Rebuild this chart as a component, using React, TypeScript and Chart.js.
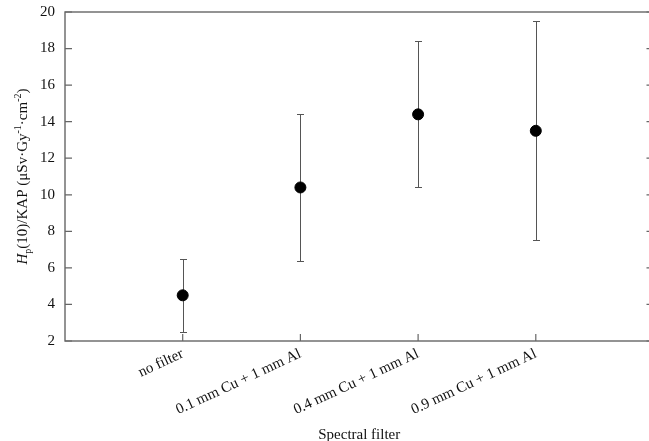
import React, { useEffect, useRef } from 'react';
import { Chart, registerables } from 'chart.js';

Chart.register(...registerables);

const categories = ['no filter', '0.1 mm Cu + 1 mm Al', '0.4 mm Cu + 1 mm Al', '0.9 mm Cu + 1 mm Al'];
const categoryPositions = [1, 2, 3, 4];
const meanValues = [4.5, 10.4, 14.4, 13.5];
const lowerValues = [2.5, 6.4, 10.4, 7.5];
const upperValues = [6.5, 14.4, 18.4, 19.5];
const yTickValues = [2, 4, 6, 8, 10, 12, 14, 16, 18, 20];
const xTitle = 'Spectral filter';

const SERIF = '"Liberation Serif", "Times New Roman", serif';

const decorPlugin = {
  id: 'decor',
  beforeDatasetsDraw(chart: any) {
    const ctx = chart.ctx;
    const xs = chart.scales.x;
    const ys = chart.scales.y;
    ctx.save();
    ctx.strokeStyle = '#555';
    ctx.lineWidth = 1;
    categoryPositions.forEach((pos, i) => {
      const x = Math.round(xs.getPixelForValue(pos)) + 0.5;
      const yl = Math.round(ys.getPixelForValue(lowerValues[i])) + 0.5;
      const yh = Math.round(ys.getPixelForValue(upperValues[i])) + 0.5;
      ctx.beginPath();
      ctx.moveTo(x, yl);
      ctx.lineTo(x, yh);
      ctx.moveTo(x - 3.5, yl);
      ctx.lineTo(x + 3.5, yl);
      ctx.moveTo(x - 3.5, yh);
      ctx.lineTo(x + 3.5, yh);
      ctx.stroke();
    });
    ctx.restore();
  },
  afterDraw(chart: any) {
    const ctx = chart.ctx;
    const a = chart.chartArea;
    const xs = chart.scales.x;
    const ys = chart.scales.y;
    ctx.save();
    ctx.strokeStyle = '#666';
    ctx.lineWidth = 1.4;
    ctx.strokeRect(a.left, a.top, a.right - a.left, a.bottom - a.top);
    ctx.lineWidth = 1.2;
    ctx.beginPath();
    yTickValues.forEach((v) => {
      const y = ys.getPixelForValue(v);
      ctx.moveTo(a.left, y);
      ctx.lineTo(a.left + 7, y);
      ctx.moveTo(a.right, y);
      ctx.lineTo(a.right - 7, y);
    });
    categoryPositions.forEach((p) => {
      const x = xs.getPixelForValue(p);
      ctx.moveTo(x, a.bottom);
      ctx.lineTo(x, a.bottom - 7);
    });
    ctx.stroke();

    // x title
    ctx.fillStyle = '#111';
    ctx.font = `15px ${SERIF}`;
    ctx.textAlign = 'center';
    ctx.textBaseline = 'alphabetic';
    ctx.fillText(xTitle, (a.left + a.right) / 2, 439);

    // y title with italic H, subscript p and superscripts
    const parts: { t: string; font: string; dy: number }[] = [
      { t: 'H', font: `italic 15px ${SERIF}`, dy: 0 },
      { t: 'p', font: `10px ${SERIF}`, dy: 4 },
      { t: '(10)/KAP (μSv·Gy', font: `15px ${SERIF}`, dy: 0 },
      { t: '-1', font: `10px ${SERIF}`, dy: -6 },
      { t: '·cm', font: `15px ${SERIF}`, dy: 0 },
      { t: '-2', font: `10px ${SERIF}`, dy: -6 },
      { t: ')', font: `15px ${SERIF}`, dy: 0 },
    ];
    let total = 0;
    parts.forEach((p) => {
      ctx.font = p.font;
      total += ctx.measureText(p.t).width;
    });
    ctx.translate(22, (a.top + a.bottom) / 2);
    ctx.rotate(-Math.PI / 2);
    ctx.textAlign = 'left';
    let cx = -total / 2;
    parts.forEach((p) => {
      ctx.font = p.font;
      ctx.fillText(p.t, cx, 5 + p.dy);
      cx += ctx.measureText(p.t).width;
    });
    ctx.restore();
  },
};

export default function App() {
  const ref = useRef<HTMLCanvasElement | null>(null);
  useEffect(() => {
    if (!ref.current) return;
    const chart = new Chart(ref.current, {
      type: 'scatter',
      data: {
        datasets: [
          {
            data: categoryPositions.map((p, i) => ({ x: p, y: meanValues[i] })),
            backgroundColor: '#000',
            borderColor: '#000',
            pointRadius: 5.5,
            pointHoverRadius: 5.5,
          },
        ],
      },
      options: {
        animation: false,
        responsive: false,
        layout: { padding: { top: 12, right: 6, left: 0, bottom: 0 } },
        plugins: { legend: { display: false }, tooltip: { enabled: false } },
        scales: {
          x: {
            type: 'linear',
            min: 0,
            max: 5,
            afterFit: (s: any) => {
              s.height = 100;
              s.paddingLeft = 0;
              s.paddingRight = 0;
              s.paddingTop = 0;
              s.paddingBottom = 0;
            },
            afterBuildTicks: (s: any) => {
              s.ticks = [0, 1, 2, 3, 4, 5].map((v) => ({ value: v }));
            },
            grid: { display: false, drawTicks: false },
            border: { display: false },
            ticks: {
              autoSkip: false,
              minRotation: 25,
              maxRotation: 25,
              padding: 4,
              color: '#111',
              font: { family: SERIF, size: 15 },
              callback: (v: any) => {
                const i = categoryPositions.indexOf(Number(v));
                return i >= 0 ? categories[i] : '';
              },
            },
          },
          y: {
            min: 2,
            max: 20,
            afterFit: (s: any) => {
              s.width = 65;
              s.paddingTop = 0;
              s.paddingBottom = 0;
              s.paddingLeft = 0;
              s.paddingRight = 0;
            },
            grid: { display: false, drawTicks: false },
            border: { display: false },
            ticks: {
              stepSize: 2,
              padding: 10,
              color: '#111',
              font: { family: SERIF, size: 15 },
            },
          },
        },
      },
      plugins: [decorPlugin],
    });
    return () => chart.destroy();
  }, []);
  return (
    <div style={{ position: 'fixed', left: 0, top: 0, width: 649, height: 441, overflow: 'hidden', background: '#fff' }}>
      <canvas ref={ref} width={660} height={441} style={{ width: 660, height: 441, display: 'block' }} />
    </div>
  );
}
